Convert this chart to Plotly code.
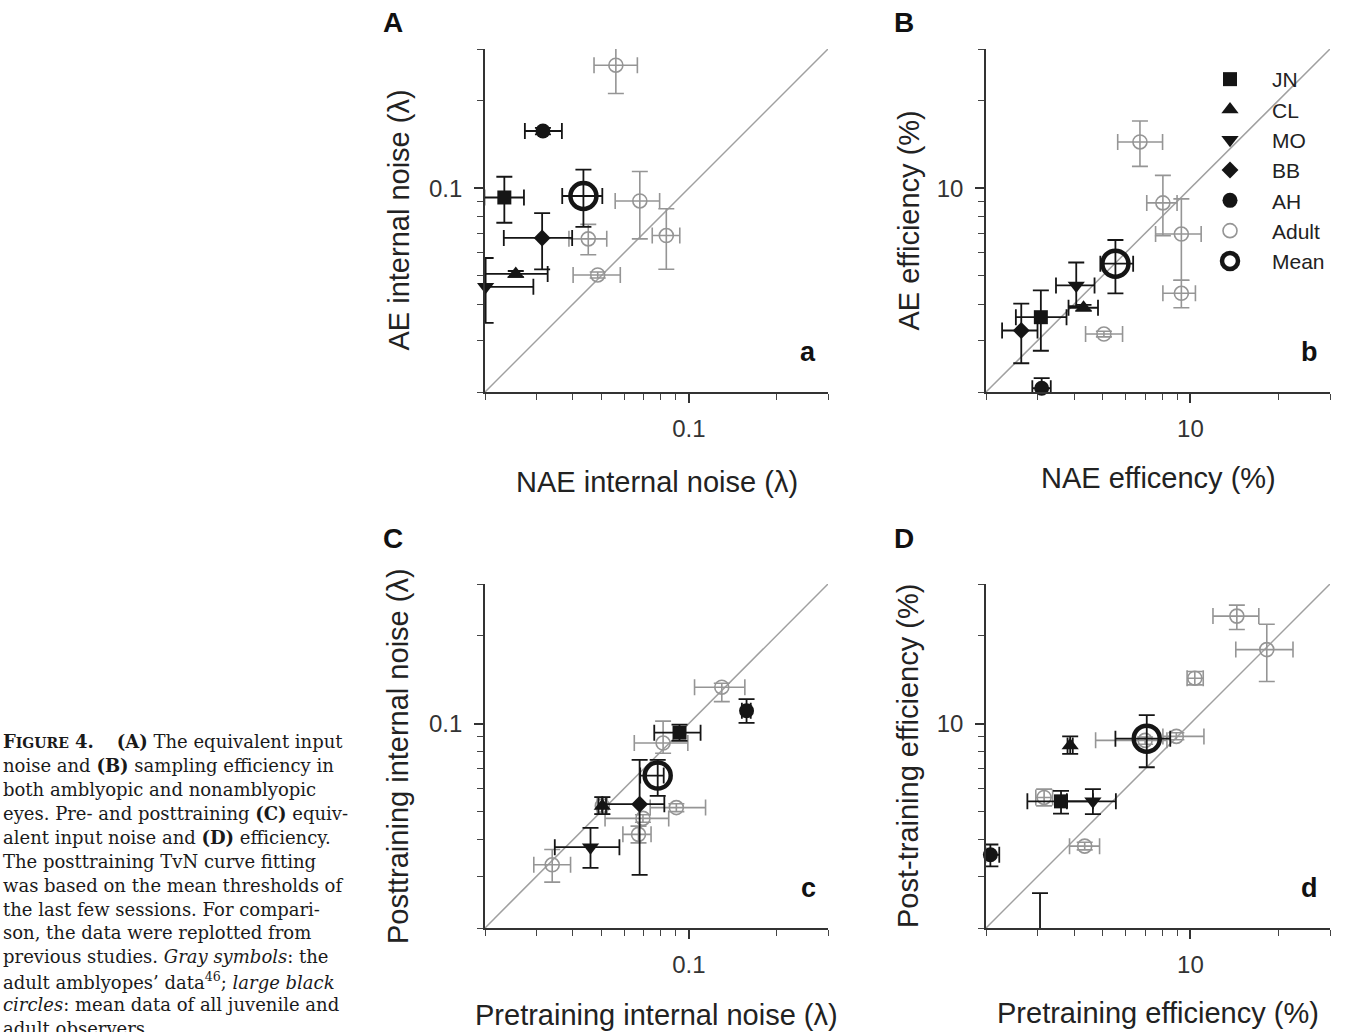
import plotly.graph_objects as go
import math

W, H = 1345, 1032

SUBJECTS = ["JN", "CL", "MO", "BB", "AH"]
SYMBOLS = ["square", "triangle-up", "triangle-down", "diamond", "circle"]

# ---------------- Panel a : NAE (x) vs AE (y) internal noise ----------------
a_x   = [0.0233, 0.0255, 0.0201, 0.0314, 0.0316]
a_y   = [0.0929, 0.0508, 0.0459, 0.0675, 0.157]
a_xlo = [0.0199, 0.0199, 0.0199, 0.0232, 0.0274]
a_xhi = [0.0272, 0.0328, 0.0293, 0.0398, 0.0367]
a_ylo = [0.0761, 0.0496, 0.0345, 0.0527, 0.153]
a_yhi = [0.1094, 0.0520, 0.0576, 0.0821, 0.161]
a_mean = [0.0435, 0.0940, 0.0368, 0.0505, 0.0737, 0.1157]  # x, y, xlo, xhi, ylo, yhi
a_ad_x   = [0.0562, 0.0679, 0.0452, 0.0837, 0.0487]
a_ad_y   = [0.264, 0.0904, 0.0670, 0.0688, 0.0504]
a_ad_xlo = [0.0473, 0.0559, 0.0388, 0.0749, 0.0401]
a_ad_xhi = [0.0666, 0.0794, 0.0523, 0.0931, 0.0582]
a_ad_ylo = [0.211, 0.0670, 0.0591, 0.0527, 0.0492]
a_ad_yhi = [0.303, 0.114, 0.0751, 0.0850, 0.0516]

# ---------------- Panel b : NAE (x) vs AE (y) efficiency (%) ----------------
b_x   = [3.08, 4.31, 4.07, 2.64, 3.10]
b_y   = [3.61, 3.89, 4.64, 3.25, 2.06]
b_xlo = [2.53, 3.83, 3.47, 2.27, 2.88]
b_xhi = [3.77, 4.83, 4.70, 3.00, 3.33]
b_ylo = [2.77, 3.80, 3.94, 2.51, 1.90]
b_yhi = [4.46, 3.98, 5.56, 4.02, 2.23]
b_mean = [5.54, 5.51, 4.92, 6.37, 4.36, 6.64]
b_ad_x   = [6.72, 8.05, 9.31, 9.31, 5.06]
b_ad_y   = [14.4, 8.90, 6.96, 4.36, 3.16]
b_ad_xlo = [5.64, 7.09, 7.60, 8.05, 4.38]
b_ad_xhi = [8.03, 9.00, 10.88, 10.40, 5.86]
b_ad_ylo = [11.88, 6.87, 4.83, 3.89, 3.09]
b_ad_yhi = [17.0, 11.06, 9.19, 4.83, 3.23]

# ---------------- Panel c : pre (x) vs post (y) internal noise ----------------
c_x   = [0.0929, 0.0505, 0.0460, 0.0678, 0.1577]
c_y   = [0.0931, 0.0523, 0.0378, 0.0530, 0.1106]
c_xlo = [0.0761, 0.0490, 0.0347, 0.0505, 0.1520]
c_xhi = [0.1097, 0.0520, 0.0578, 0.0824, 0.1630]
c_ylo = [0.0872, 0.0490, 0.0321, 0.0304, 0.1005]
c_yhi = [0.0992, 0.0560, 0.0440, 0.0751, 0.1213]
c_mean = [0.0782, 0.0664, 0.0681, 0.0820, 0.0566, 0.0751]
c_ad_x   = [0.1297, 0.0816, 0.0505, 0.0906, 0.0696, 0.0672, 0.0340]
c_ad_y   = [0.1331, 0.0858, 0.0523, 0.0516, 0.0474, 0.0418, 0.0329]
c_ad_xlo = [0.1046, 0.0650, 0.0485, 0.0737, 0.0516, 0.0594, 0.0294]
c_ad_xhi = [0.1556, 0.0992, 0.0525, 0.1141, 0.0853, 0.0742, 0.0393]
c_ad_ylo = [0.1188, 0.0792, 0.0490, 0.0500, 0.0460, 0.0391, 0.0287]
c_ad_yhi = [0.1374, 0.1019, 0.0560, 0.0532, 0.0488, 0.0446, 0.0371]

# ---------------- Panel d : pre (x) vs post (y) efficiency (%) ----------------
d_x   = [3.61, 3.88, 4.64, 3.06, 2.07]
d_y   = [5.42, 8.42, 5.42, 1.60, 3.56]
d_xlo = [2.77, 3.80, 3.78, 3.06, 1.99]
d_xhi = [4.64, 3.96, 5.56, 3.06, 2.22]
d_ylo = [4.92, 7.88, 4.90, 1.60, 3.25]
d_yhi = [5.89, 9.04, 5.97, 2.63, 3.86]
d_mean = [7.09, 8.88, 5.54, 8.53, 7.09, 10.68]
d_ad_x   = [14.41, 18.24, 10.35, 7.00, 8.95, 3.16, 4.35]
d_ad_y   = [23.3, 17.9, 14.29, 8.76, 9.04, 5.59, 3.81]
d_ad_xlo = [11.94, 14.29, 9.74, 4.74, 8.05, 2.96, 3.86]
d_ad_xhi = [17.13, 22.42, 11.06, 8.31, 11.12, 3.38, 4.89]
d_ad_ylo = [20.98, 13.92, 13.56, 8.50, 8.80, 5.23, 3.70]
d_ad_yhi = [25.4, 21.85, 15.07, 9.00, 9.30, 5.97, 3.93]

# axis ranges / ticks
NOISE_RANGE = [0.02, 0.3]
EFF_RANGE = [2, 30]
NOISE_MAJOR = [0.1]
NOISE_LABELS = ["0.1"]
NOISE_MINOR = [0.02, 0.03, 0.04, 0.05, 0.06, 0.07, 0.08, 0.09, 0.2, 0.3]
EFF_MAJOR = [10]
EFF_LABELS = ["10"]
EFF_MINOR = [2, 3, 4, 5, 6, 7, 8, 9, 20, 30]

BLACK = "#151515"
GRAY = "#959595"
SANS = "Liberation Sans, Arial, sans-serif"

fig = go.Figure()


def errs(v, lo, hi):
    return [h - x for x, h in zip(v, hi)], [x - l for x, l in zip(v, lo)]


def add_panel(xa, ya, X, Y, XLO, XHI, YLO, YHI, MEAN, AX, AY, AXLO, AXHI, AYLO, AYHI,
              rng, legend=False, clip_below=None):
    # identity line
    fig.add_trace(go.Scatter(x=rng, y=rng, mode="lines", xaxis=xa, yaxis=ya,
                             line=dict(color="#a0a0a0", width=1.5),
                             showlegend=False, hoverinfo="skip"))
    # adults
    px, mx = errs(AX, AXLO, AXHI)
    py, my = errs(AY, AYLO, AYHI)
    fig.add_trace(go.Scatter(
        x=AX, y=AY, mode="markers", xaxis=xa, yaxis=ya, name="Adult",
        legendgroup="Adult", showlegend=legend, legendrank=6, cliponaxis=False,
        marker=dict(symbol="circle-open", size=14, color=GRAY, line=dict(width=1.6, color=GRAY)),
        error_x=dict(type="data", symmetric=False, array=px, arrayminus=mx,
                     color=GRAY, thickness=1.6, width=8),
        error_y=dict(type="data", symmetric=False, array=py, arrayminus=my,
                     color=GRAY, thickness=1.6, width=8)))
    # juveniles
    for i, (name, sym) in enumerate(zip(SUBJECTS, SYMBOLS)):
        clip = (clip_below is not None and Y[i] < clip_below)
        size = {"square": 14, "triangle-up": 15, "triangle-down": 15,
                "diamond": 13, "circle": 15}[sym]
        fig.add_trace(go.Scatter(
            x=[X[i]], y=[Y[i]], mode="markers", xaxis=xa, yaxis=ya, name=name,
            legendgroup=name, showlegend=legend, legendrank=i + 1,
            cliponaxis=clip,
            marker=dict(symbol=sym, size=size, color=BLACK, line=dict(width=0)),
            error_x=dict(type="data", symmetric=False, array=[XHI[i] - X[i]],
                         arrayminus=[X[i] - XLO[i]], color=BLACK, thickness=1.8, width=8),
            error_y=dict(type="data", symmetric=False, array=[YHI[i] - Y[i]],
                         arrayminus=[Y[i] - YLO[i]], color=BLACK, thickness=1.8, width=8)))
    # mean
    fig.add_trace(go.Scatter(
        x=[MEAN[0]], y=[MEAN[1]], mode="markers", xaxis=xa, yaxis=ya, name="Mean",
        legendgroup="Mean", showlegend=legend, legendrank=7, cliponaxis=False,
        marker=dict(symbol="circle-open", size=26, color=BLACK, line=dict(width=4.5, color=BLACK)),
        error_x=dict(type="data", symmetric=False, array=[MEAN[3] - MEAN[0]],
                     arrayminus=[MEAN[0] - MEAN[2]], color=BLACK, thickness=1.8, width=8),
        error_y=dict(type="data", symmetric=False, array=[MEAN[5] - MEAN[1]],
                     arrayminus=[MEAN[1] - MEAN[4]], color=BLACK, thickness=1.8, width=8)))


add_panel("x", "y", a_x, a_y, a_xlo, a_xhi, a_ylo, a_yhi, a_mean,
          a_ad_x, a_ad_y, a_ad_xlo, a_ad_xhi, a_ad_ylo, a_ad_yhi, NOISE_RANGE)
add_panel("x2", "y2", b_x, b_y, b_xlo, b_xhi, b_ylo, b_yhi, b_mean,
          b_ad_x, b_ad_y, b_ad_xlo, b_ad_xhi, b_ad_ylo, b_ad_yhi, EFF_RANGE, legend=True)
add_panel("x3", "y3", c_x, c_y, c_xlo, c_xhi, c_ylo, c_yhi, c_mean,
          c_ad_x, c_ad_y, c_ad_xlo, c_ad_xhi, c_ad_ylo, c_ad_yhi, NOISE_RANGE)
add_panel("x4", "y4", d_x, d_y, d_xlo, d_xhi, d_ylo, d_yhi, d_mean,
          d_ad_x, d_ad_y, d_ad_xlo, d_ad_xhi, d_ad_ylo, d_ad_yhi, EFF_RANGE,
          clip_below=EFF_RANGE[0])


def dom_x(p0, p1):
    return [p0 / W, p1 / W]


def dom_y(top, bottom):
    return [1 - bottom / H, 1 - top / H]


def axis(domain, rng, major, labels, minor, anchor, is_x):
    ax = dict(type="log", domain=domain, range=[math.log10(rng[0]), math.log10(rng[1])],
              anchor=anchor, showgrid=False, zeroline=False, showline=True,
              linecolor="#333", linewidth=1.6, ticks="outside", ticklen=9, tickwidth=1.6,
              tickcolor="#333", tickmode="array", tickvals=major, ticktext=labels,
              tickfont=dict(family=SANS, size=24, color="#333"),
              ticklabelstandoff=5 if is_x else 7,
              minor=dict(tickmode="array", tickvals=minor, ticklen=6, tickwidth=1.4,
                         tickcolor="#444", ticks="outside", showgrid=False),
              fixedrange=True)
    return ax


PANELS = [
    ("xaxis", "yaxis", (485, 828), (49, 392), "noise", "y", "x"),
    ("xaxis2", "yaxis2", (986, 1330), (49, 392), "eff", "y2", "x2"),
    ("xaxis3", "yaxis3", (485, 828), (584, 928), "noise", "y3", "x3"),
    ("xaxis4", "yaxis4", (986, 1330), (584, 928), "eff", "y4", "x4"),
]
lay = {}
for xk, yk, xd, yd, kind, yanc, xanc in PANELS:
    if kind == "noise":
        rng, maj, lab, mnr = NOISE_RANGE, NOISE_MAJOR, NOISE_LABELS, NOISE_MINOR
    else:
        rng, maj, lab, mnr = EFF_RANGE, EFF_MAJOR, EFF_LABELS, EFF_MINOR
    lay[xk] = axis(dom_x(*xd), rng, maj, lab, mnr, yanc, True)
    lay[yk] = axis(dom_y(*yd), rng, maj, lab, mnr, xanc, False)

fig.update_layout(**lay)

ann = []
TITLES = [
    ("x", "y", "NAE internal noise (λ)", "AE internal noise (λ)", 90, 87, "a"),
    ("x2", "y2", "NAE efficency (%)", "AE efficiency (%)", 86, 78, "b"),
    ("x3", "y3", "Pretraining internal noise (λ)", "Posttraining internal noise (λ)", 87, 87, "c"),
    ("x4", "y4", "Pretraining efficiency (%)", "Post-training efficiency (%)", 85, 78, "d"),
]
for xr, yr, xt, yt, xs, ys, lett in TITLES:
    ann.append(dict(xref=f"{xr} domain", yref=f"{yr} domain", x=0.5, y=0, yshift=-xs,
                    text=xt, showarrow=False, xanchor="center", yanchor="middle",
                    font=dict(family=SANS, size=29, color="#222")))
    ann.append(dict(xref=f"{xr} domain", yref=f"{yr} domain", x=0, y=0.5, xshift=-ys,
                    text=yt, showarrow=False, textangle=-90, xanchor="center", yanchor="middle",
                    font=dict(family=SANS, size=29, color="#222")))
    ann.append(dict(xref=f"{xr} domain", yref=f"{yr} domain", x=1, y=0, xshift=-10, yshift=40,
                    text=f"<b>{lett}</b>", showarrow=False, xanchor="right", yanchor="middle",
                    font=dict(family=SANS, size=27, color="#111")))

for letter, px, py in [("A", 393, 22), ("B", 904, 22), ("C", 393, 538), ("D", 904, 538)]:
    ann.append(dict(xref="paper", yref="paper", x=px / W, y=1 - py / H, text=f"<b>{letter}</b>",
                    showarrow=False, xanchor="center", yanchor="middle",
                    font=dict(family=SANS, size=28, color="#111")))

CAPTION = [
    "<b>F<span style='font-size:14px'>IGURE</span> 4.</b>&nbsp;&nbsp;&nbsp; <b>(A)</b> The equivalent input",
    "noise and <b>(B)</b> sampling efficiency in",
    "both amblyopic and nonamblyopic",
    "eyes. Pre- and posttraining <b>(C)</b> equiv-",
    "alent input noise and <b>(D)</b> efficiency.",
    "The posttraining TvN curve fitting",
    "was based on the mean thresholds of",
    "the last few sessions. For compari-",
    "son, the data were replotted from",
    "previous studies. <i>Gray symbols</i>: the",
    "adult amblyopes’ data<sup>46</sup>; <i>large black</i>",
    "<i>circles</i>: mean data of all juvenile and",
    "adult observers.",
]
for i, line in enumerate(CAPTION):
    yc = 741.7 + 23.9 * i
    ann.append(dict(xref="paper", yref="paper", x=1 / W, y=1 - yc / H, text=line,
                    showarrow=False, xanchor="left", yanchor="middle", align="left",
                    font=dict(family="DejaVu Serif, serif", size=18, color="#1a1a1a")))

fig.update_layout(
    width=W, height=H, margin=dict(l=0, r=0, t=0, b=0),
    paper_bgcolor="white", plot_bgcolor="white",
    annotations=ann,
    showlegend=True,
    legend=dict(x=1188 / W, y=1 - 59 / H, xanchor="left", yanchor="top",
                font=dict(family=SANS, size=21, color="#222"), bgcolor="rgba(0,0,0,0)",
                itemsizing="trace", tracegroupgap=0, itemwidth=74),
)

fig.write_html("out.html", config={"displayModeBar": False},
               post_script="document.body.style.margin='0px';document.body.style.overflow='hidden';")
